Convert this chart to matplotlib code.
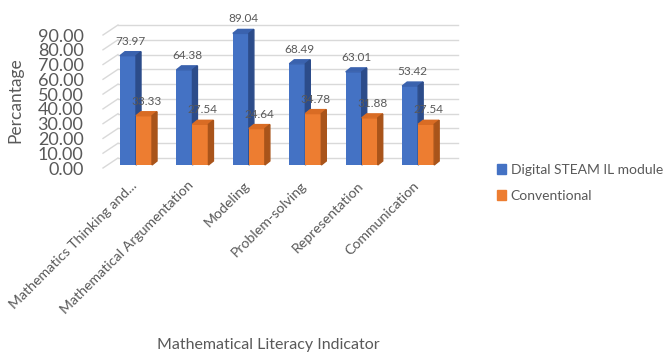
import matplotlib
matplotlib.use("Agg")
import matplotlib.pyplot as plt
from matplotlib.patches import Polygon, Patch

plt.rcParams['font.family'] = ['Lato', 'DejaVu Sans']

indicators = ["Mathematics Thinking and...", "Mathematical Argumentation", "Modeling",
              "Problem-solving", "Representation", "Communication"]
steam = [73.97, 64.38, 89.04, 68.49, 63.01, 53.42]
conventional = [33.33, 27.54, 24.64, 34.78, 31.88, 27.54]
series_names = ["Digital STEAM IL module", "Conventional"]
yticks = [0, 10, 20, 30, 40, 50, 60, 70, 80, 90]

# face colours: front, top, side
blue = ("#4472C4", "#3A62AE", "#2C4C8A")
orange = ("#ED7D31", "#D96C24", "#A9541A")
grid_c = "#D9D9D9"
text_c = "#595959"

W, H = 667, 354
fig = plt.figure(figsize=(W / 100, H / 100), dpi=100)
left, bottom, aw, ah = 103, 168, 340, 133
ax = fig.add_axes([left / W, 1 - bottom / H, aw / W, ah / H])
x0, x1 = -0.585, 5.44
ax.set_xlim(x0, x1)
ax.set_ylim(0, 90)
ppx = aw / (x1 - x0)
ppy = ah / 90.0

# back wall offset and bar depth, in data units
gx, gy = 15 / ppx, 10 / ppy
bx, by = 5 / ppx, 4 / ppy
z0 = 3 / ppy
bw = 16 / ppx

# back wall gridlines with slanted left edge
for v in yticks:
    ax.plot([x0 + gx, x1 + gx], [v + gy, v + gy], color=grid_c, lw=1, clip_on=False, zorder=0)
    ax.plot([x0, x0 + gx], [v, v + gy], color=grid_c, lw=1, clip_on=False, zorder=0)


def bar3d(xl, h, cols):
    ax.bar(xl, h, width=bw, bottom=z0, align='edge', color=cols[0], zorder=2, clip_on=False)
    top = h + z0
    ax.add_patch(Polygon([(xl, top), (xl + bw, top), (xl + bw + bx, top + by), (xl + bx, top + by)],
                         closed=True, color=cols[1], zorder=2, clip_on=False))
    ax.add_patch(Polygon([(xl + bw, z0), (xl + bw + bx, z0 + by), (xl + bw + bx, top + by), (xl + bw, top)],
                         closed=True, color=cols[2], zorder=2, clip_on=False))


for i, (a, b) in enumerate(zip(steam, conventional)):
    bar3d(i - bw, a, blue)
    bar3d(i, b, orange)
    ax.text(i - bw / 2 + bx / 2, a + z0 + by + 5 / ppy, f"{a:.2f}", ha='center', va='bottom',
            fontsize=8.5, color=text_c, zorder=3)
    ax.text(i + bw / 2 + bx / 2, b + z0 + by + 5 / ppy, f"{b:.2f}", ha='center', va='bottom',
            fontsize=8.5, color=text_c, zorder=3)

for s in ax.spines.values():
    s.set_visible(False)
ax.set_yticks(yticks, [f"{v:.2f}" for v in yticks])
ax.tick_params(axis='y', length=0, pad=14, labelsize=13, labelcolor=text_c)
ax.set_xticks([i - 5 / ppx for i in range(len(indicators))], indicators,
              rotation=45, ha='right', rotation_mode='anchor')
ax.tick_params(axis='x', length=0, pad=8, labelsize=10.2, labelcolor=text_c)

fig.text(15 / W, 1 - 100 / H, "Percantage", rotation=90, ha='center', va='center',
         fontsize=12.5, color=text_c)
fig.text(268 / W, 1 - 345 / H, "Mathematical Literacy Indicator", ha='center', va='center',
         fontsize=11.5, color=text_c)

handles = [Patch(color=blue[0]), Patch(color=orange[0])]
fig.legend(handles, series_names, loc='center left', bbox_to_anchor=(487 / W, 1 - 183 / H),
           frameon=False, fontsize=10, handlelength=0.7, handleheight=0.7, handletextpad=0.3,
           labelspacing=1.0, labelcolor=text_c, borderpad=0.2)

fig.savefig("out.png", dpi=100)
